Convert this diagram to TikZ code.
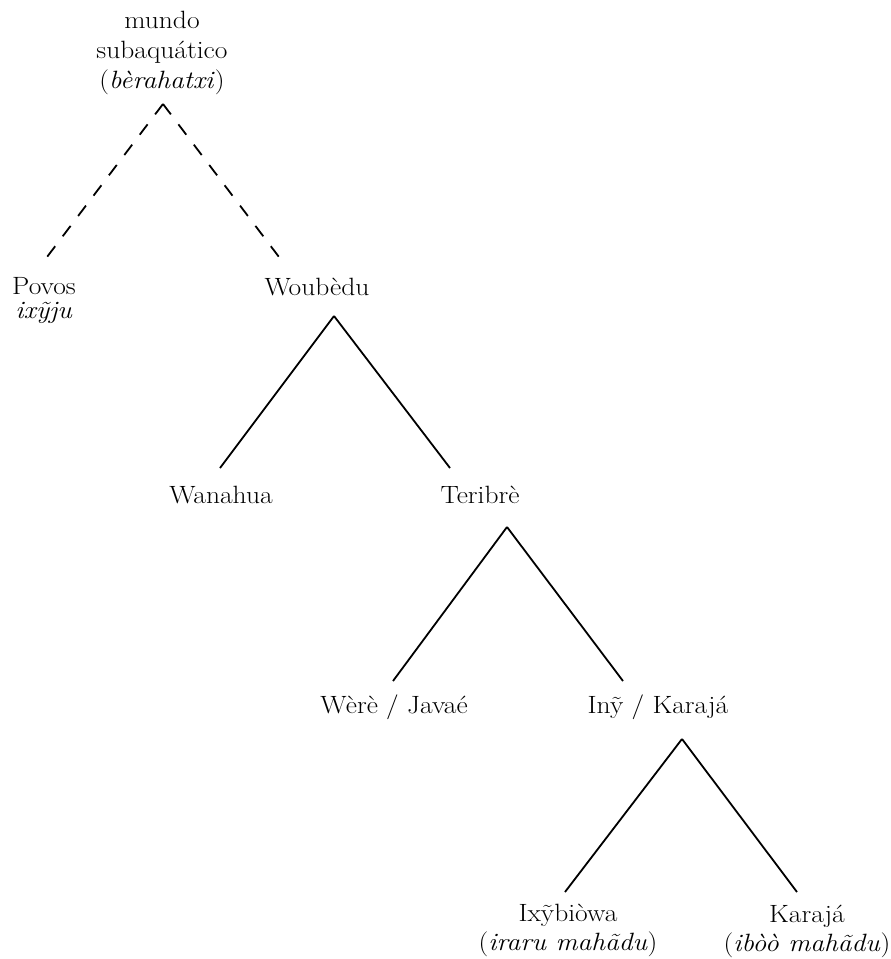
\documentclass[tikz,border=0pt]{standalone}
\usepackage{fontspec}
\setmainfont{Latin Modern Roman}[FakeStretch=1.1]
\usepackage{tikz}
\usetikzlibrary{
  chains,
  positioning,
  scopes
}

\begin{document}
\begin{tikzpicture}[
      x=1pt,y=-1pt,
      people/.style={
         align=center,
         inner sep=0pt,
         anchor=base,
         font=\fontsize{25}{29}\selectfont
      },
      split/.style={coordinate},
      branch/.style={line width=1.8pt},
      myth branch/.style={branch,dash pattern=on 13pt off 12.5pt},
      %line cap=round
    ]
    \useasboundingbox (0,0) rectangle (891,959);
    % labels (anchored at the baseline of the last line)
    \node (n0) [people, font=\fontsize{25}{30}\selectfont] at (162,88) {mundo\\subaqu\'atico\\(\textit{bèrahatxi})};
    \node (n11) [people, font=\fontsize{25}{24}\selectfont] at (44,318) {Povos\\\textit{ixỹju}};
    \node (n12) [people] at (317,295) {Woubèdu};
    \node (n21) [people] at (221,503) {Wanahua};
    \node (n22) [people] at (480,503) {Teribrè};
    \node (n31) [people] at (394,713) {Wèrè / Javaé};
    \node (n32) [people] at (658,713) {Inỹ / Karajá};
    \node (n41) [people] at (568,950) {Ixỹbiòwa\\(\textit{iraru mahãdu})};
    \node (n42) [people] at (807,951) {Karajá\\(\textit{ibòò mahãdu})};
    % split points and line ends
    \coordinate (s0) at (163,104);
    \coordinate (e11) at (47,257);
    \coordinate (e12) at (279,257);
    \coordinate (s1) at (334,316);
    \coordinate (e21) at (220,468);
    \coordinate (e22) at (450,468);
    \coordinate (s2) at (507,527);
    \coordinate (e31) at (393,681);
    \coordinate (e32) at (623,681);
    \coordinate (s3) at (682,739);
    \coordinate (e41) at (565,892);
    \coordinate (e42) at (797,892);
  { [start chain]
       \chainin (s0);
       \chainin (e11)    [join=by myth branch];
  }
  { [start chain]
       \chainin (s0);
       \chainin (e12)    [join=by myth branch];
  }
  { [start chain]
       \chainin (s1);
       \chainin (e21)    [join=by branch];
  }
  { [start chain]
       \chainin (s1);
       \chainin (e22)    [join=by branch];
  }
  { [start chain]
       \chainin (s2);
       \chainin (e31)    [join=by branch];
  }
  { [start chain]
       \chainin (s2);
       \chainin (e32)    [join=by branch];
  }
  { [start chain]
       \chainin (s3);
       \chainin (e41)    [join=by branch];
  }
  { [start chain]
       \chainin (s3);
       \chainin (e42)    [join=by branch];
  }
\end{tikzpicture}
\end{document}
